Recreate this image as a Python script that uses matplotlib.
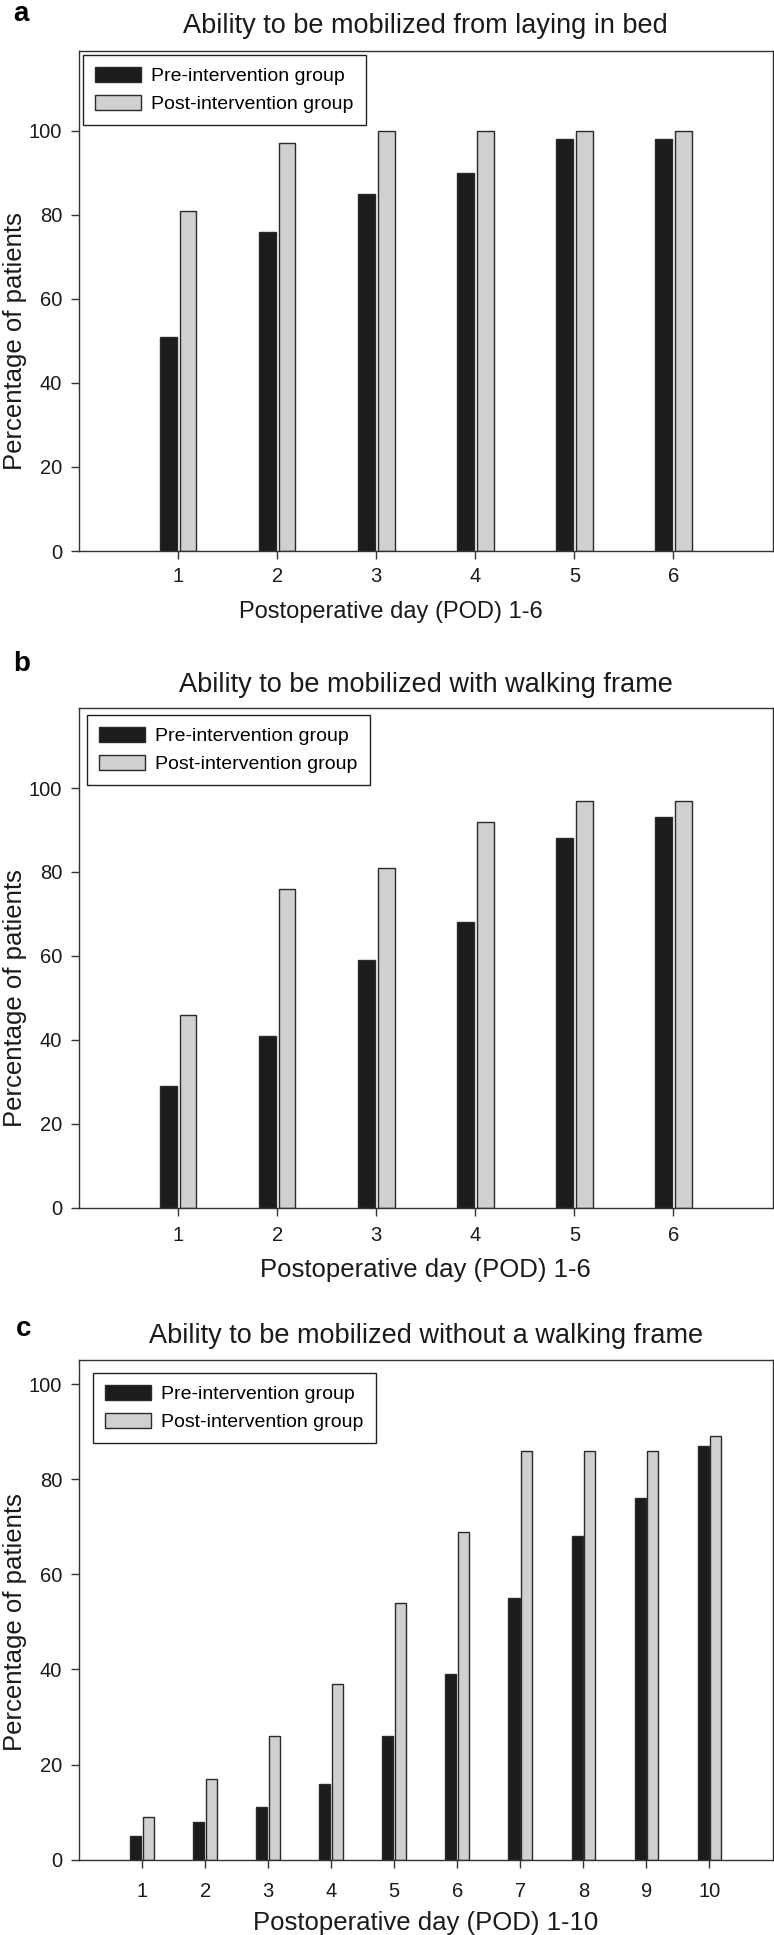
import matplotlib
matplotlib.use('Agg')
import matplotlib.pyplot as plt
import numpy as np

plt.rcParams['font.family'] = ['Liberation Sans', 'DejaVu Sans']

# data (percent of patients)
days_6 = [1, 2, 3, 4, 5, 6]
days_10 = [1, 2, 3, 4, 5, 6, 7, 8, 9, 10]

bed_pre = [51, 76, 85, 90, 98, 98]
bed_post = [81, 97, 100, 100, 100, 100]

frame_pre = [29, 41, 59, 68, 88, 93]
frame_post = [46, 76, 81, 92, 97, 97]

noframe_pre = [5, 8, 11, 16, 26, 39, 55, 68, 76, 87]
noframe_post = [9, 17, 26, 37, 54, 69, 86, 86, 86, 89]

legend_labels = ['Pre-intervention group', 'Post-intervention group']
titles = ['Ability to be mobilized from laying in bed',
          'Ability to be mobilized with walking frame',
          'Ability to be mobilized without a walking frame']
xlabels = ['Postoperative day (POD) 1-6',
           'Postoperative day (POD) 1-6',
           'Postoperative day (POD) 1-10']
letters = ['a', 'b', 'c']

W, H = 774, 1935
fig = plt.figure(figsize=(W / 100, H / 100), dpi=100)

# layout per panel: top px, bottom px, ylim top, legend anchor, title pad, xlabel (x, y, size), tick pad, letter pos
panels = [
    dict(x=days_6, pre=bed_pre, post=bed_post, top=51, bot=551, ymax=119,
         leg=(0.0058, 0.992), tpad=13.2, xl=(0.449, -0.1334, 17), xpad=6,
         let=(13, 21), width=0.17),
    dict(x=days_6, pre=frame_pre, post=frame_post, top=708.3, bot=1207.7, ymax=119,
         leg=(0.0115, 0.9866), tpad=12, xl=(0.5, -0.138, 18.5), xpad=8,
         let=(13, 671), width=0.17),
    dict(x=days_10, pre=noframe_pre, post=noframe_post, top=1360.3, bot=1859.7, ymax=105,
         leg=(0.0202, 0.9746), tpad=12.7, xl=(0.5, -0.1408, 18.5), xpad=10.5,
         let=(16, 1336), width=0.175),
]

left_px, right_px = 79, 772.5
edge = '#2a2a2a'

for i, p in enumerate(panels):
    ax = fig.add_axes([left_px / W, 1 - p['bot'] / H,
                       (right_px - left_px) / W, (p['bot'] - p['top']) / H])
    x = np.array(p['x'])
    ax.bar(x - 0.1, p['pre'], width=p['width'], color='#1c1c1c',
           edgecolor=edge, linewidth=1, label=legend_labels[0])
    ax.bar(x + 0.1, p['post'], width=p['width'], color='#d0d0d0',
           edgecolor=edge, linewidth=1, label=legend_labels[1])

    ax.set_xlim(0, len(x) + 1)
    ax.set_ylim(0, p['ymax'])
    ax.set_xticks(x)
    ax.set_yticks([0, 20, 40, 60, 80, 100])
    ax.tick_params(axis='both', direction='out', length=5.5, width=1,
                   color='#333333', labelsize=14.5, labelcolor='#1a1a1a')
    ax.tick_params(axis='x', pad=p['xpad'])
    ax.tick_params(axis='y', pad=6.5)
    for s in ax.spines.values():
        s.set_linewidth(1)
        s.set_color('#333333')

    ax.set_title(titles[i], fontsize=19.5, pad=p['tpad'], color='#1a1a1a')
    ax.set_xlabel(xlabels[i], fontsize=p['xl'][2], color='#1a1a1a', va='baseline')
    ax.xaxis.set_label_coords(p['xl'][0], p['xl'][1])
    ax.set_ylabel('Percentage of patients', fontsize=18.5, color='#1a1a1a')
    ax.yaxis.set_label_coords(-0.0745, 50 / p['ymax'])

    leg = ax.legend(loc='upper left', bbox_to_anchor=p['leg'], borderaxespad=0,
                    fontsize=14, handlelength=2.37, handleheight=0.82,
                    handletextpad=0.52, labelspacing=0.5, borderpad=0.62,
                    fancybox=False, framealpha=1)
    leg.get_frame().set_edgecolor('#222222')
    leg.get_frame().set_linewidth(1)

    fig.text(p['let'][0] / W, 1 - p['let'][1] / H, letters[i], fontsize=20,
             fontweight='bold', ha='left', va='baseline')

fig.savefig('out.png', dpi=100)
